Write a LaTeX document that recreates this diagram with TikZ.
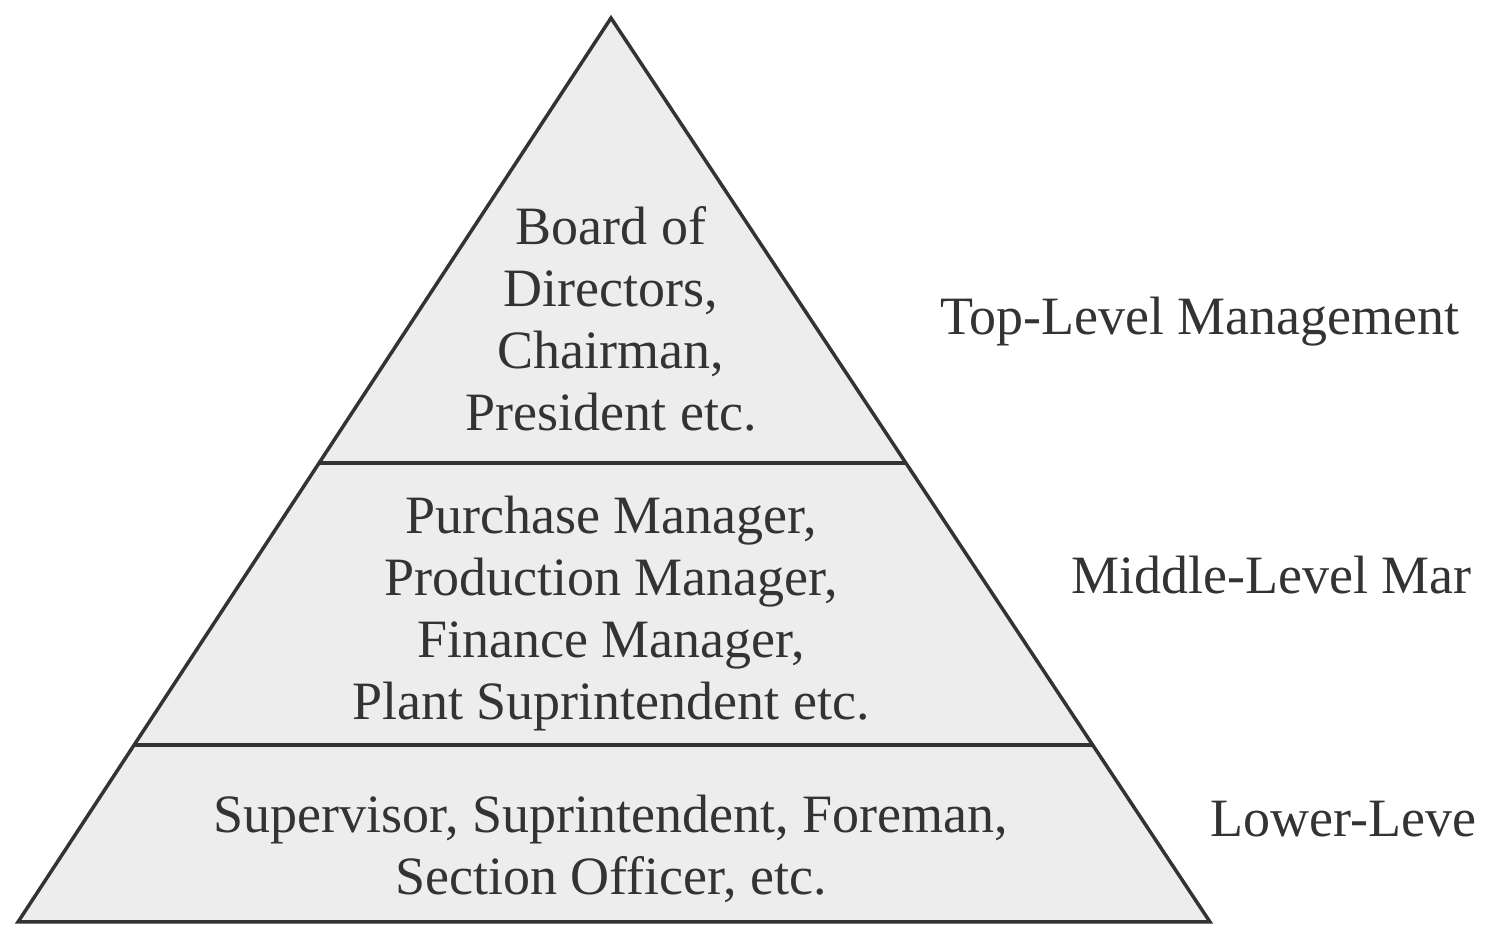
\documentclass[tikz,border=0pt]{standalone}
\usepackage{fontspec}
\setmainfont{Liberation Serif}
\begin{document}
\begin{tikzpicture}[x=1pt,y=1pt,
  edge/.style={draw=black!80, line width=3.5pt, line join=miter},
  body/.style={align=center, text=black!80, font=\fontsize{54}{62}\selectfont, inner sep=0pt},
  lab/.style={anchor=west, text=black!80, font=\fontsize{54}{62}\selectfont, inner sep=0pt}]
\useasboundingbox (0,0) rectangle (1489,928);
\coordinate (apex) at (611,910);
\coordinate (bl) at (18,6);
\coordinate (br) at (1210,6);
\coordinate (m1l) at (319,465);
\coordinate (m1r) at (906,465);
\coordinate (m2l) at (134,183);
\coordinate (m2r) at (1093,183);
\fill[black!7] (apex) -- (bl) -- (br) -- cycle;
\draw[edge] (m1l) -- (m1r);
\draw[edge] (m2l) -- (m2r);
\draw[edge] (apex) -- (bl) -- (br) -- cycle;
\node[body] (top) at (611,609) {Board of\\Directors,\\Chairman,\\President etc.};
\node[body] (mid) at (611,314) {Purchase Manager,\\Production Manager,\\Finance Manager,\\Plant Suprintendent etc.};
\node[body] (low) at (611,79) {Supervisor, Suprintendent, Foreman,\\Section Officer, etc.};
\node[lab] (ltop) at (940,606) {Top-Level Management};
\node[lab] (lmid) at (1071,353) {Middle-Level Mar};
\node[lab] (llow) at (1210,109) {Lower-Leve};
\end{tikzpicture}
\end{document}
